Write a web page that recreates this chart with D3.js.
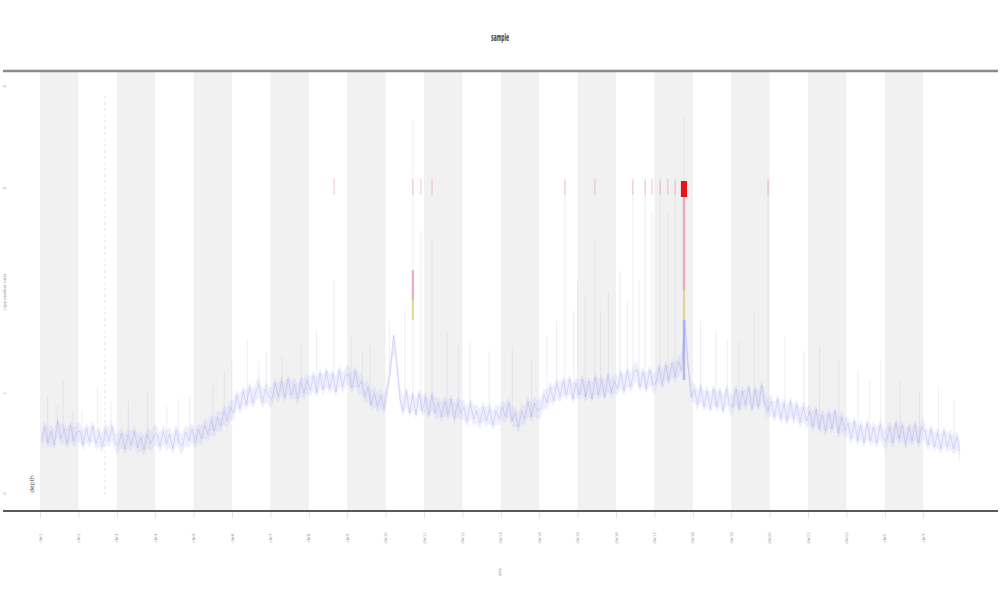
<!DOCTYPE html>
<html><head><meta charset="utf-8">
<script src="https://cdn.jsdelivr.net/npm/d3@7"></script>
<style>body{margin:0;background:#fff}svg{display:block}</style>
</head><body>
<script>
// ---- data ----
const chromLabels = ["chr1","chr2","chr3","chr4","chr5","chr6","chr7","chr8","chr9","chr10","chr11","chr12","chr13","chr14","chr15","chr16","chr17","chr18","chr19","chr20","chr21","chr22","chrX","chrY"];
const yTickValues = [18, 118, 323, 425];
const yTickLabels = ["0", "1", "3", "4"];
const depth = [
 70,84,68,80,66,90,72,82,67,86,70,79,
 80,66,83,69,85,67,78,64,82,70,84,68,
 65,78,62,76,66,80,63,74,61,77,67,75,
 78,64,80,67,77,62,81,68,65,79,70,82,
 68,82,72,86,76,90,80,94,85,100,90,104,
 98,116,102,120,106,124,108,120,126,108,122,114,
 112,128,114,130,113,132,116,127,112,129,118,131,
 120,136,118,138,121,140,122,137,119,141,124,136,
 137,123,140,124,130,114,124,106,118,104,116,102,
 122,140,176,148,112,100,120,98,116,96,118,100,
 114,96,116,98,108,94,110,96,112,92,108,98,
 104,90,108,92,100,88,104,90,102,86,100,92,
 104,94,108,90,98,84,100,92,110,94,108,100,
 102,116,108,124,110,128,114,130,116,132,112,128,
 116,132,114,130,112,134,116,132,114,136,118,130,
 122,138,120,140,124,137,142,124,139,122,141,126,
 128,144,126,146,130,148,134,150,140,191,146,114,
 122,106,124,104,120,102,122,104,120,100,122,106,
 104,122,102,120,106,124,102,122,104,126,108,100,
 110,94,112,92,108,90,110,92,106,88,104,90,
 100,84,102,82,96,80,98,82,100,78,94,80,
 88,72,90,70,86,68,88,70,84,68,86,72,
 70,84,68,88,72,86,66,84,70,86,68,84,
 80,66,82,64,78,62,80,64,76,62,74,60
];
const spikePos = [0.2,0.45,0.6,0.85,1.1,1.5,1.85,2.3,2.8,3.3,3.6,3.9,4.5,4.8,5.0,5.4,5.7,5.9,6.3,6.8,7.2,7.66,8.1,8.4,8.6,9.1,9.5,9.71,9.92,10.21,10.6,10.9,11.2,11.7,12.3,12.8,13.2,13.45,13.67,13.9,14.0,14.2,14.45,14.6,14.8,15.1,15.3,15.44,15.6,15.76,15.94,16.15,16.35,16.54,16.77,17.2,17.6,17.9,18.2,18.6,18.96,19.4,19.9,20.3,20.8,21.3,21.6,21.9,22.4,22.9,23.4,23.8];
const spikeTop = [115,105,130,100,100,125,110,110,120,105,112,115,125,140,150,170,150,160,155,165,180,230,175,160,165,190,200,390,280,270,180,165,170,160,165,150,175,190,330,200,230,215,270,200,220,240,210,330,230,330,300,330,300,330,393,190,180,170,170,200,330,175,160,165,150,140,130,150,130,120,125,110];
const markPos = [7.66,9.71,9.92,10.21,13.67,14.45,15.44,15.76,15.94,16.15,16.35,16.54,18.96];
const markLo = 316, markHi = 332;
const blockPos = [16.69, 16.85];
const blockVal = [314, 330];
const segPos = [16.77,16.77,16.77,9.71,9.71];
const segLo  = [221,191,131,211,191];
const segHi  = [314,221,191,241,211];
const segKind = ["high","mid","low","high","mid"];
const markerPos = 1.69;
const markerRange = [16, 416];

// ---- layout ----
const W = 1000, H = 600;
const pLeft = 3, pRight = 998, pTop = 71, pBottom = 511;
const spread = 10;
const svg = d3.select("body").append("svg").attr("width", W).attr("height", H);
svg.append("rect").attr("width", W).attr("height", H).attr("fill", "#fff");

const x = d3.scaleLinear().domain([0, 24]).range([40, 961.6]);
const y = d3.scaleLinear().domain([0, 440]).range([pBottom, pTop]);
const color = d3.scaleOrdinal().domain(["high","mid","low"]).range(["#e890a8","#d6d27a","#9a9af2"]);
const posOf = i => Math.floor(i / 12) + ((i % 12) + 0.5) / 12;
const depthAt = p => depth[Math.max(0, Math.min(depth.length - 1, Math.round(p * 12 - 0.5)))];

// bands
svg.append("g").selectAll("rect").data(d3.range(0, 24, 2)).join("rect")
  .attr("x", d => x(d)).attr("width", d => x(d + 1) - x(d))
  .attr("y", pTop + 1).attr("height", pBottom - pTop - 1)
  .attr("fill", "#f1f1f1");

// spikes
svg.append("g").selectAll("line").data(spikePos).join("line")
  .attr("x1", d => x(d)).attr("x2", d => x(d))
  .attr("y1", d => y(depthAt(d))).attr("y2", (d, i) => y(spikeTop[i]))
  .attr("stroke", "#bcb4d8").attr("stroke-width", 0.6).attr("stroke-opacity", 0.4);

// marker line
svg.append("line")
  .attr("x1", x(markerPos)).attr("x2", x(markerPos))
  .attr("y1", y(markerRange[0])).attr("y2", y(markerRange[1]))
  .attr("stroke", "#888").attr("stroke-width", 0.6).attr("stroke-opacity", 0.35)
  .attr("stroke-dasharray", "3,3");

// depth band + line
svg.append("path").datum(depth)
  .attr("d", d3.area().x((d, i) => x(posOf(i))).y0(d => y(d - spread)).y1(d => y(d + spread)).curve(d3.curveBasis))
  .attr("fill", "#b8b8f6").attr("fill-opacity", 0.22);
svg.append("path").datum(depth).attr("d", d3.line().x((d, i) => x(posOf(i))).y(d => y(d)))
  .attr("fill", "none").attr("stroke", "#7c7cf2").attr("stroke-width", 0.6).attr("stroke-opacity", 0.4);

// segments
svg.append("g").selectAll("rect").data(segPos).join("rect")
  .attr("x", d => x(d) - 1.2).attr("width", 2.4)
  .attr("y", (d, i) => y(segHi[i])).attr("height", (d, i) => y(segLo[i]) - y(segHi[i]))
  .attr("fill", (d, i) => color(segKind[i])).attr("fill-opacity", 0.7);

// red marks
svg.append("g").selectAll("line").data(markPos).join("line")
  .attr("x1", d => x(d)).attr("x2", d => x(d))
  .attr("y1", y(markLo)).attr("y2", y(markHi))
  .attr("stroke", "#e05050").attr("stroke-width", 0.8).attr("stroke-opacity", 0.4);
svg.append("rect")
  .attr("x", x(blockPos[0])).attr("width", x(blockPos[1]) - x(blockPos[0]))
  .attr("y", y(blockVal[1])).attr("height", y(blockVal[0]) - y(blockVal[1]))
  .attr("fill", "#e8141c");

// frame lines
svg.append("line").attr("x1", pLeft).attr("x2", pRight).attr("y1", pTop).attr("y2", pTop)
  .attr("stroke", "#8a8a8a").attr("stroke-width", 2.5);
svg.append("line").attr("x1", pLeft).attr("x2", pRight).attr("y1", pBottom).attr("y2", pBottom)
  .attr("stroke", "#222").attr("stroke-width", 1.5);

// x axis
const xAxis = svg.append("g").attr("transform", `translate(0,${pBottom + 1})`)
  .call(d3.axisBottom(x).tickValues(d3.range(0, 24)).tickFormat(i => chromLabels[i]).tickSize(6).tickPadding(0));
xAxis.select(".domain").remove();
xAxis.selectAll(".tick line").attr("stroke", "#ccc").attr("stroke-width", 0.6);
xAxis.selectAll(".tick text")
  .attr("font-family", "DejaVu Sans").attr("font-size", 4).attr("fill", "#999")
  .attr("text-anchor", "middle").attr("dy", 0).attr("y", 0)
  .attr("transform", "translate(1,26) rotate(-90)");

// y axis
const yAxis = svg.append("g").attr("transform", `translate(${pLeft + 3},0)`)
  .call(d3.axisLeft(y).tickValues(yTickValues).tickFormat((d, i) => yTickLabels[i]).tickSize(0).tickPadding(0));
yAxis.select(".domain").remove();
yAxis.selectAll(".tick text")
  .attr("font-family", "DejaVu Sans").attr("font-size", 4).attr("fill", "#999")
  .attr("text-anchor", "middle").attr("dy", 0).attr("x", 0)
  .attr("transform", "rotate(-90)");

// titles
svg.append("text").attr("x", 500).attr("y", 41).attr("text-anchor", "middle")
  .attr("font-family", "DejaVu Sans").attr("font-size", 11).attr("font-weight", "bold")
  .attr("fill", "#444").attr("textLength", 18).attr("lengthAdjust", "spacingAndGlyphs").text("sample");
svg.append("text").attr("transform", "translate(6,292) rotate(-90)").attr("text-anchor", "middle")
  .attr("font-family", "DejaVu Sans").attr("font-size", 4).attr("fill", "#999").text("copy number ratio");
svg.append("text").attr("transform", "translate(501,572) rotate(-90)").attr("text-anchor", "middle")
  .attr("font-family", "DejaVu Sans").attr("font-size", 4).attr("fill", "#888").text("pos");
svg.append("text").attr("transform", "translate(34,484) rotate(-90)").attr("text-anchor", "middle")
  .attr("font-family", "DejaVu Sans").attr("font-size", 6).attr("fill", "#555").text("depth");
</script>
</body></html>
